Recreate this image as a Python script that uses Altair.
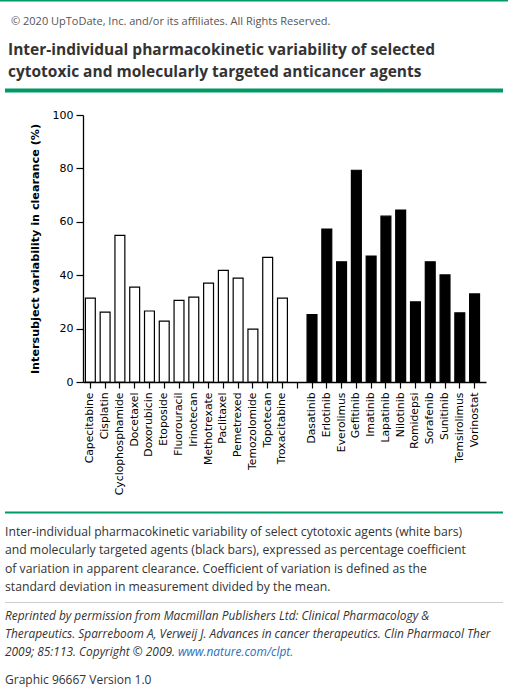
import altair as alt
import pandas as pd

# ---------------- data ----------------
cytotoxic = ["Capecitabine", "Cisplatin", "Cyclophosphamide", "Docetaxel", "Doxorubicin",
             "Etoposide", "Fluorouracil", "Irinotecan", "Methotrexate", "Paclitaxel",
             "Pemetrexed", "Temozolomide", "Topotecan", "Troxacitabine"]
cytotoxic_cv = [31.4, 26.2, 54.9, 35.5, 26.6, 22.8, 30.6, 31.8, 37.0, 41.8, 38.9, 19.8, 46.7, 31.4]

targeted = ["Dasatinib", "Erlotinib", "Everolimus", "Gefitinib", "Imatinib", "Lapatinib",
            "Nilotinib", "Romidepsi", "Sorafenib", "Sunitinib", "Temsirolimus", "Vorinostat"]
targeted_cv = [25.2, 57.3, 45.0, 79.3, 47.2, 62.1, 64.4, 30.0, 45.0, 40.1, 25.9, 33.0]

gap = " "
categories = cytotoxic + [gap] + targeted
y_ticks = [0, 20, 40, 60, 80, 100]

df = pd.DataFrame({
    "drug": cytotoxic + targeted,
    "cv": cytotoxic_cv + targeted_cv,
    "group": ["Cytotoxic"] * len(cytotoxic) + ["Targeted"] * len(targeted),
})

copyright_text = "© 2020 UpToDate, Inc. and/or its affiliates. All Rights Reserved."
title_lines = ["Inter-individual pharmacokinetic variability of selected",
               "cytotoxic and molecularly targeted anticancer agents"]
caption_lines = [
    "Inter-individual pharmacokinetic variability of select cytotoxic agents (white bars)",
    "and molecularly targeted agents (black bars), expressed as percentage coefficient",
    "of variation in apparent clearance. Coefficient of variation is defined as the",
    "standard deviation in measurement divided by the mean.",
]
reference_lines = [
    "Reprinted by permission from Macmillan Publishers Ltd: Clinical Pharmacology &",
    "Therapeutics. Sparreboom A, Verweij J. Advances in cancer therapeutics. Clin Pharmacol Ther",
    "2009; 85:113. Copyright © 2009.",
]
link_text = "www.nature.com/clpt."
graphic_text = "Graphic 96667 Version 1.0"

# ---------------- layout ----------------
W, H = 525, 699
OX, OY = 83, 115          # plot origin in page pixels
PW, PH = 403, 267         # plot area
GREEN = "#009a66"
AX = "DejaVu Sans"
TF = "Open Sans"


def px(x):
    return x - OX


def py(y):
    return y - OY


one = alt.Data(values=[{}])

bars = alt.Chart(df).mark_bar(stroke="black", strokeWidth=1.2).encode(
    x=alt.X("drug:N", sort=categories,
            scale=alt.Scale(domain=categories, paddingInner=0.33, paddingOuter=0.3, align=0.27),
            axis=alt.Axis(title=None, labelAngle=-90, labelFont=AX, labelFontSize=10.8,
                          labelColor="black", labelPadding=4, labelOverlap=False,
                          tickColor="black", tickSize=6, tickWidth=1.2,
                          domainColor="black", domainWidth=1.3)),
    y=alt.Y("cv:Q", scale=alt.Scale(domain=[0, 100], nice=False),
            axis=alt.Axis(title="Intersubject variability in clearance (%)", values=y_ticks,
                          grid=False, titleFont=AX, titleFontSize=11.2, titleFontWeight="bold",
                          titleColor="black", titlePadding=12,
                          labelFont=AX, labelFontSize=11, labelColor="black", labelPadding=3,
                          tickColor="black", tickSize=7, tickWidth=1.2,
                          domainColor="black", domainWidth=1.3)),
    fill=alt.Fill("group:N", scale=alt.Scale(domain=["Cytotoxic", "Targeted"], range=["white", "black"]),
                  legend=None),
)


def rule(x1, x2, y, color, width):
    return alt.Chart(one).mark_rule(color=color, strokeWidth=width).encode(
        x=alt.value(px(x1)), x2=alt.value(px(x2)), y=alt.value(py(y)))


def text(lines, x, y, size, color="#333333", weight="normal", style="normal", lh=18.5):
    return alt.Chart(one).mark_text(
        text=lines, align="left", baseline="alphabetic", font=TF, fontSize=size,
        color=color, fontWeight=weight, fontStyle=style, lineHeight=lh,
    ).encode(x=alt.value(px(x)), y=alt.value(py(y)))


layers = [
    rule(0, 508, 0.8, GREEN, 1.6),
    text(copyright_text, 11, 24.5, 11, color="#555555"),
    text(title_lines, 8, 55, 15.5, color="#333333", weight="bold", lh=22),
    rule(5, 503, 90.5, GREEN, 4),
    bars,
    rule(5, 503, 512.5, GREEN, 2),
    text(caption_lines, 5, 535.7, 12.2, lh=18.5),
    rule(5, 503, 602.5, "#cccccc", 1),
    text(reference_lines, 5, 620, 11.9, style="italic", lh=18),
    text(link_text, 178, 656, 11.9, color="#2a6ebb", style="italic"),
    text(graphic_text, 5, 684.3, 12),
]

chart = alt.layer(*layers).properties(
    width=PW, height=PH,
    autosize=alt.AutoSizeParams(type="none"),
    padding={"left": OX, "top": OY, "right": W - OX - PW, "bottom": H - OY - PH},
    background="white",
).configure_view(stroke=None)

chart.save("out.html", embed_options={"renderer": "svg", "actions": False})
